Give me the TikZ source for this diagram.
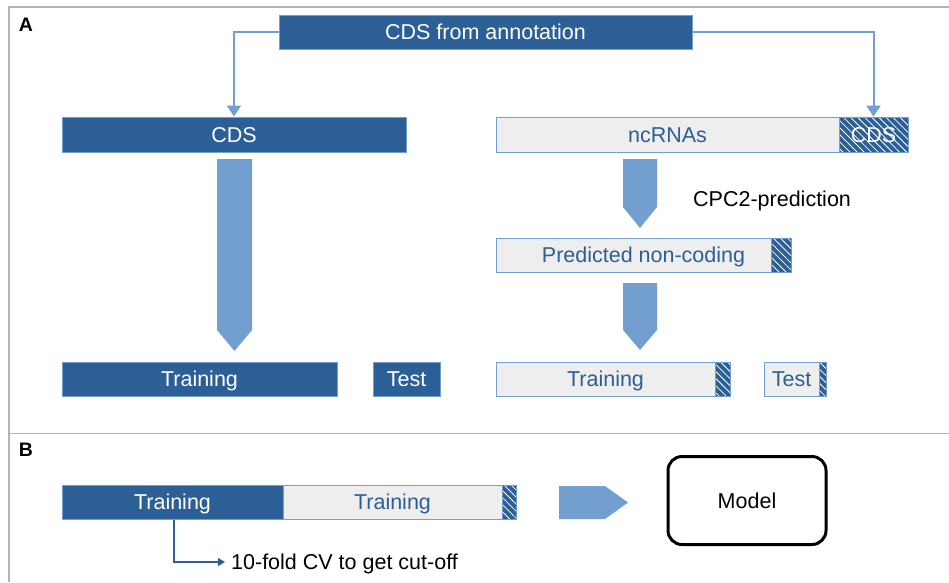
\documentclass[tikz,border=0pt]{standalone}
\usepackage{fontspec}
\setmainfont{Liberation Sans}
\usetikzlibrary{arrows.meta,patterns.meta,calc}
\definecolor{dkblue}{HTML}{2C5F96}
\definecolor{ltblue}{HTML}{729FCF}
\definecolor{grayfill}{HTML}{EEEEEE}
\definecolor{framegray}{HTML}{B4B4B4}
\tikzset{
  bx/.style={rectangle, inner sep=0pt, minimum height=34pt, draw=ltblue, line width=1pt,
     font=\fontsize{21.5pt}{24pt}\selectfont, text height=15.4pt, text depth=0pt},
  dkbox/.style={bx, fill=dkblue, text=white},
  gybox/.style={bx, fill=grayfill, text=dkblue},
  hatchbox/.style={bx, preaction={fill=dkblue}, pattern={Lines[angle=-45,distance=5pt,line width=0.8pt]}, pattern color=white, text=white},
  txt/.style={inner sep=0pt, font=\fontsize{21.5pt}{24pt}\selectfont, text height=15.4pt, text depth=0pt},
  blk/.style={fill=ltblue, draw=none},
  conn/.style={draw=ltblue, line width=2pt, -{Triangle[width=14pt,length=11pt]}},
  panel/.style={inner sep=0pt, font=\fontsize{19.5pt}{22pt}\selectfont\bfseries}
}
\begin{document}
\begin{tikzpicture}[x=1pt,y=-1pt]
\useasboundingbox (0,0) rectangle (949,582);
% frame
\draw[framegray, line width=1.5pt] (9,582) -- (9,7) -- (949,7);
\draw[framegray, line width=1.5pt] (9,433.5) -- (949,433.5);
\node[panel] (lA) at (26,25) {A};
\node[panel] (lB) at (26,450) {B};
% top box
\node[dkbox, minimum width=413pt] (top) at (485.5,32) {CDS from annotation};
% left column
\node[dkbox, minimum width=344pt, minimum height=35pt] (cds) at (234,134.5) {CDS};
\node[dkbox, minimum width=275pt] (trL) at (199.5,379) {Training};
\node[dkbox, minimum width=67pt] (teL) at (406.5,379) {Test};
% right column
\node[gybox, minimum width=343pt, minimum height=35pt] (nc) at (667.5,134.5) {ncRNAs};
\node[hatchbox, minimum width=69pt, minimum height=35pt] (hcds) at (873.5,134.5) {CDS};
\node[gybox, minimum width=275pt] (pred) at (633.5,255) {};
\node[hatchbox, minimum width=20pt] (hpred) at (781,255) {};
\node[txt, text=dkblue] (predtxt) at ($(pred.west)!0.5!(hpred.east)$) {Predicted non-coding};
\node[gybox, minimum width=219pt] (trR) at (605.5,379) {Training};
\node[hatchbox, minimum width=15pt] (htrR) at (722.5,379) {};
\node[gybox, minimum width=55pt] (teR) at (791.5,379) {Test};
\node[hatchbox, minimum width=7pt] (hteR) at (822.5,379) {};
\node[txt, anchor=west] (cpc) at (693,199) {CPC2-prediction};
% connectors
\draw[conn] (top.west) -| (cds.north);
\draw[conn] (top.east) -| (hcds.north);
% block arrows
\fill[blk] (217,159) -- (252,159) -- (252,330) -- (234.5,351) -- (217,330) -- cycle;
\fill[blk] (623,159) -- (657,159) -- (657,207) -- (640,228) -- (623,207) -- cycle;
\fill[blk] (623,283) -- (657,283) -- (657,330) -- (640,350) -- (623,330) -- cycle;
% panel B
\node[dkbox, minimum width=221pt] (trB1) at (172.5,502) {Training};
\node[gybox, minimum width=219pt] (trB2) at (392.5,502) {Training};
\node[hatchbox, minimum width=14pt] (htrB) at (509,502) {};
\fill[blk] (559,486) -- (605,486) -- (628,502.5) -- (605,519) -- (559,519) -- cycle;
\node[bx, draw=black, line width=3pt, rounded corners=14pt, minimum width=158pt, minimum height=88pt] (model) at (747,500.5) {Model};
\node[txt, anchor=west] (cv) at (231,562) {10-fold CV to get cut-off};
\draw[dkblue, line width=1.5pt, -{Triangle[width=8pt,length=7pt]}] ([xshift=1.5pt]trB1.south) |- ([xshift=-6pt]cv.west);
\end{tikzpicture}
\end{document}
